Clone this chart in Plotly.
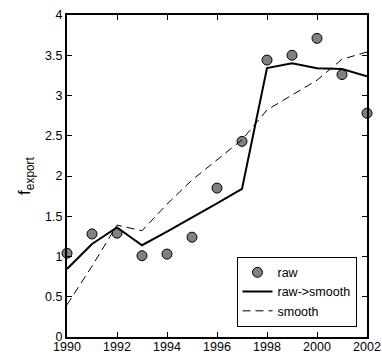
import plotly.graph_objects as go

years = list(range(1990, 2003))
raw = [1.04, 1.28, 1.29, 1.01, 1.03, 1.24, 1.85, 2.43, 3.44, 3.50, 3.71, 3.26, 2.78]
raw_to_smooth = [0.845, 1.155, 1.36, 1.14, 1.31, 1.48, 1.66, 1.84, 3.34, 3.40, 3.34, 3.33, 3.24]
smooth = [0.40, 0.88, 1.39, 1.32, 1.65, 1.95, 2.20, 2.45, 2.82, 3.00, 3.19, 3.45, 3.54]

x_ticks = list(range(1990, 2003, 2))
y_ticks = [0, 0.5, 1, 1.5, 2, 2.5, 3, 3.5, 4]
y_tick_text = ["0", "0.5", "1", "1.5", "2", "2.5", "3", "3.5", "4"]

fig = go.Figure()
fig.add_trace(go.Scatter(x=years, y=raw, mode="markers", name="raw", cliponaxis=False,
                         marker=dict(size=10, color="#808080",
                                     line=dict(color="black", width=1))))
fig.add_trace(go.Scatter(x=years, y=raw_to_smooth, mode="lines", name="raw->smooth",
                         line=dict(color="black", width=2)))
fig.add_trace(go.Scatter(x=years, y=smooth, mode="lines", name="smooth",
                         line=dict(color="black", width=1, dash="8px,5px")))

fig.update_layout(
    width=382, height=354,
    margin=dict(l=67, r=15, t=15, b=17),
    paper_bgcolor="white", plot_bgcolor="white",
    font=dict(family="Liberation Sans, Arial, sans-serif", size=12, color="black"),
    showlegend=True,
    legend=dict(x=0.965, y=0.032, xanchor="right", yanchor="bottom",
                bordercolor="black", borderwidth=1, bgcolor="white",
                font=dict(size=12.5), tracegroupgap=0, itemwidth=30),
)
fig.update_xaxes(range=[1990, 2002], tickvals=x_ticks, ticks="inside", ticklen=5,
                 showline=True, linecolor="black", linewidth=2, mirror="ticks",
                 showgrid=False, zeroline=False, tickcolor="black", automargin=False,
                 ticklabelstandoff=-3, tickfont=dict(size=12.5))
fig.update_yaxes(range=[0, 4], tickvals=y_ticks, ticktext=y_tick_text,
                 ticks="inside", ticklen=5, automargin=False,
                 showline=True, linecolor="black", linewidth=2, mirror="ticks",
                 showgrid=False, zeroline=False, tickcolor="black",
                 tickfont=dict(size=12.5),
                 title=dict(text="f<sub>export</sub>", font=dict(size=17), standoff=10))

fig.write_html("out.html")
